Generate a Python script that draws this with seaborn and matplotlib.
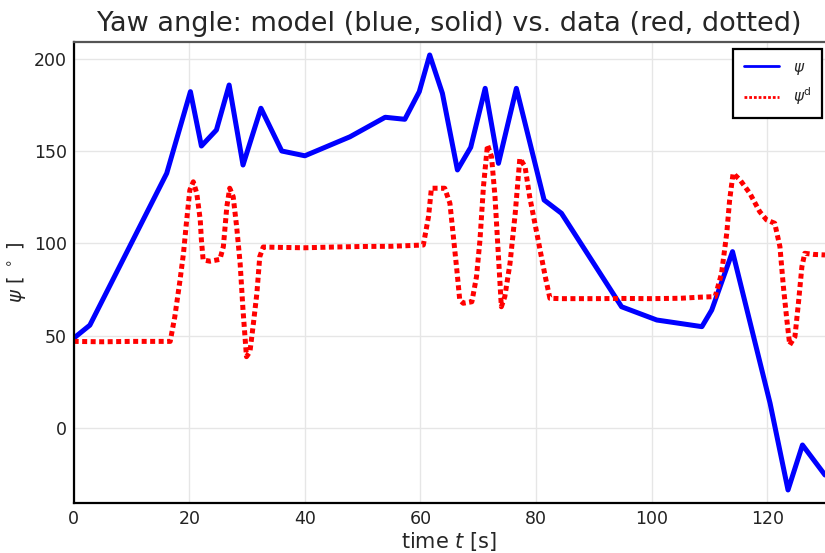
import numpy as np
import pandas as pd
import matplotlib
matplotlib.use("Agg")
import matplotlib.pyplot as plt
import seaborn as sns

# Model yaw angle (solid blue), vertices of the piecewise trajectory
t_model = [0.0, 2.8, 16.1, 20.2, 22.1, 24.7, 26.9, 29.3, 32.4, 36.0, 40.0,
           47.8, 53.9, 57.3, 59.8, 61.6, 63.8, 66.4, 68.7, 71.2, 73.5, 76.6,
           81.4, 84.4, 94.8, 100.9, 108.7, 110.4, 114.0, 120.5, 123.6, 126.1, 130.0]
psi_model = [48.5, 55.6, 138.0, 182.3, 152.8, 161.5, 185.9, 142.5, 173.3, 150.1, 147.5,
             157.8, 168.4, 167.3, 182.3, 202.2, 181.4, 139.8, 152.1, 184.1, 143.4, 184.1,
             123.5, 116.3, 65.6, 58.4, 54.8, 63.8, 95.5, 13.2, -33.8, -9.4, -25.7]

# Measured yaw angle (dotted red)
t_data = [0.0, 5.0, 10.0, 16.7, 17.5, 18.4, 19.0, 19.5, 20.1, 20.7, 21.3, 21.9,
          22.1, 22.4, 23.6, 25.3, 25.9, 26.5, 27.0, 27.6, 28.2, 28.8, 29.3, 29.9,
          30.5, 31.1, 31.7, 32.2, 32.8, 35.7, 40.0, 45.0, 50.0, 55.0, 60.5,
          61.4, 61.9, 64.2, 65.1, 65.7, 66.3, 66.8, 67.4, 68.9, 69.7, 70.3, 70.9,
          71.6, 72.3, 72.9, 73.5, 74.0, 74.6, 75.5, 76.4, 77.2, 78.1, 78.9, 79.8,
          80.7, 81.6, 82.4, 84.2, 90.0, 95.0, 100.0, 105.0, 108.4, 111.0,
          112.1, 113.0, 113.5, 114.1, 115.3, 117.0, 118.7, 119.9, 121.3, 122.2,
          122.8, 123.4, 123.9, 124.8, 125.4, 126.0, 126.5, 128.0, 130.0]
psi_data = [46.8, 46.6, 46.8, 46.8, 60.2, 80.0, 94.6, 110.9, 128.9, 133.4, 127.1, 112.7,
            101.8, 91.0, 90.3, 91.3, 98.2, 119.9, 129.9, 125.3, 109.0, 89.2, 63.8, 38.5,
            41.2, 56.6, 72.9, 92.8, 98.0, 97.8, 97.6, 98.0, 98.3, 98.4, 99.1,
            114.5, 129.9, 129.9, 121.7, 103.6, 85.5, 69.3, 67.5, 68.3, 81.9, 101.8, 130.7,
            153.4, 147.0, 125.3, 92.8, 65.6, 71.1, 89.2, 116.3, 146.1, 141.6, 125.3, 110.9,
            96.4, 81.9, 70.2, 70.0, 70.0, 70.1, 70.0, 70.2, 70.8, 71.1,
            83.7, 105.5, 123.5, 138.0, 134.4, 127.1, 117.2, 112.7, 110.9, 98.2,
            76.5, 58.4, 44.9, 49.4, 67.5, 87.3, 94.6, 94.0, 93.7]

x_ticks = [0, 20, 40, 60, 80, 100, 120]
y_ticks = [0, 50, 100, 150, 200]

model = pd.DataFrame({"t": t_model, "psi": psi_model})
data = pd.DataFrame({"t": t_data, "psi": psi_data})

sns.set_style("whitegrid", {"grid.color": "#e6e6e6", "axes.edgecolor": "black"})
plt.rcParams["font.family"] = ["DejaVu Sans"]
plt.rcParams["mathtext.fontset"] = "dejavusans"

fig = plt.figure(figsize=(8.25, 5.53), dpi=100)
ax = fig.add_axes([0.0893, 0.0910, 0.9107, 0.8336])

sns.lineplot(data=model, x="t", y="psi", ax=ax, color=(0, 0, 1), linewidth=3.6,
             label=r"$\psi$", sort=False, estimator=None)
sns.lineplot(data=data, x="t", y="psi", ax=ax, color=(1, 0, 0), linewidth=3.6,
             label=r"$\psi^\mathrm{d}$", sort=False, estimator=None)
ax.lines[1].set_linestyle((0, (1.0, 0.7)))

ax.set_xlim(0, 130)
ax.set_ylim(-40.7, 209.4)
ax.set_xticks(x_ticks)
ax.set_yticks(y_ticks)
ax.grid(True, color="#e6e6e6", linewidth=1.0)

ax.tick_params(direction="in", length=4, width=1, colors="#222222", labelsize=12.5, pad=5)
for s in ["left", "bottom", "top"]:
    ax.spines[s].set_color("black")
    ax.spines[s].set_linewidth(1.6)
ax.spines["top"].set_color("#555555")
ax.spines["right"].set_visible(False)

ax.set_xlabel(r"time $t$ [s]", fontsize=15, labelpad=2)
ax.set_ylabel(r"$\psi$ [ $^\circ$ ]", fontsize=14, labelpad=4)
ax.set_title("Yaw angle: model (blue, solid) vs. data (red, dotted)", fontsize=19.5, pad=8)

leg = ax.legend(loc="upper right", fontsize=11, frameon=True, fancybox=False,
                handlelength=2.3, handletextpad=0.9, borderpad=0.7, labelspacing=0.55,
                bbox_to_anchor=(0.996, 0.984), borderaxespad=0.0)
leg.get_frame().set_edgecolor("black")
leg.get_frame().set_linewidth(1.6)
leg.get_frame().set_alpha(1)
for h in leg.get_lines():
    h.set_linewidth(2.0)

fig.savefig("out.png", dpi=100)
